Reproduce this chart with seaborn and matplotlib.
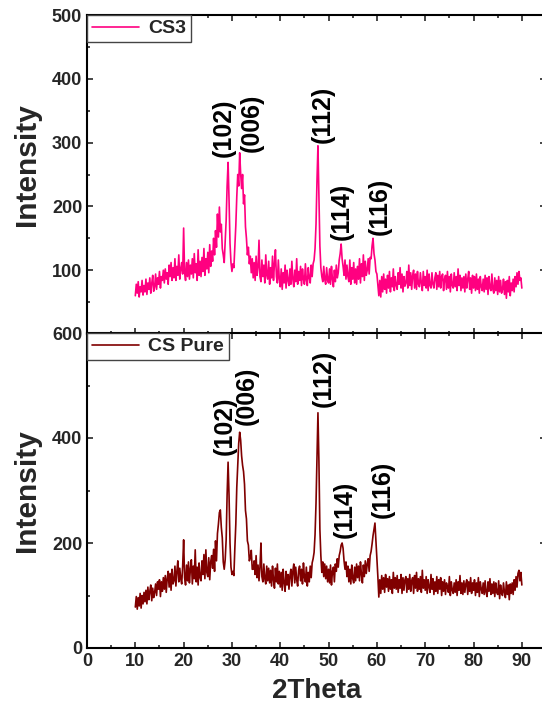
import numpy as np
import pandas as pd
import matplotlib
matplotlib.use("Agg")
import matplotlib.pyplot as plt
from matplotlib.ticker import MultipleLocator
import seaborn as sns

# 2-theta grid (degrees) shared by both scans
two_theta = np.round(np.arange(10.0, 90.0001, 0.2), 1)

# CS3 intensities, one row per 2 degrees
cs3 = [
    60, 78, 64, 82, 58, 74, 66, 84, 61, 76,
    66, 86, 62, 80, 70, 88, 64, 79, 92, 67,
    74, 94, 70, 88, 78, 98, 72, 90, 84, 100,
    80, 102, 86, 96, 78, 108, 90, 112, 84, 104,
    88, 118, 84, 106, 92, 124, 86, 102, 112, 94,
    166, 96, 84, 112, 90, 116, 86, 108, 94, 118,
    88, 126, 96, 110, 84, 132, 92, 114, 90, 120,
    98, 134, 92, 118, 102, 128, 96, 140, 106, 130,
    114, 150, 124, 162, 136, 188, 152, 199, 160, 172,
    134, 124, 112, 146, 178, 232, 269, 210, 142, 112,
    98, 110, 104, 136, 170, 215, 250, 232, 284, 252,
    228, 250, 204, 218, 168, 150, 124, 136, 110, 122,
    96, 118, 88, 112, 84, 122, 92, 104, 147, 90,
    82, 116, 90, 108, 80, 124, 92, 86, 114, 78,
    104, 88, 122, 84, 110, 132, 90, 80, 116, 86,
    74, 102, 70, 96, 80, 108, 72, 100, 84, 76,
    102, 78, 114, 86, 74, 100, 82, 118, 78, 98,
    84, 106, 76, 102, 86, 78, 110, 84, 76, 104,
    88, 80, 108, 90, 110, 116, 134, 172, 240, 295,
    212, 138, 104, 90, 82, 106, 86, 78, 104, 84,
    80, 102, 78, 106, 86, 74, 100, 82, 108, 88,
    96, 116, 126, 141, 118, 106, 92, 116, 86, 108,
    90, 82, 116, 78, 104, 86, 112, 80, 102, 78,
    106, 86, 118, 80, 110, 90, 124, 84, 114, 92,
    100, 118, 94, 120, 118, 138, 150, 126, 116, 98,
    94, 76, 60, 84, 58, 90, 66, 94, 70, 86,
    64, 92, 72, 98, 66, 88, 74, 102, 68, 90,
    76, 70, 96, 78, 104, 72, 94, 66, 90, 75,
    80, 98, 72, 108, 76, 96, 70, 92, 100, 72,
    94, 70, 98, 78, 74, 96, 80, 68, 98, 76,
    90, 72, 100, 68, 94, 76, 72, 96, 78, 72,
    88, 96, 70, 92, 74, 98, 72, 90, 94, 68,
    86, 92, 70, 98, 72, 90, 66, 94, 76, 72,
    96, 74, 90, 68, 102, 76, 92, 68, 88, 72,
    90, 66, 94, 72, 86, 98, 70, 88, 64, 92,
    72, 90, 68, 94, 70, 86, 64, 90, 74, 68,
    86, 66, 92, 70, 88, 62, 90, 72, 68, 94,
    70, 64, 88, 68, 84, 62, 90, 66, 84, 64,
    70, 86, 62, 82, 56, 84, 66, 90, 60, 80,
    68, 86, 66, 90, 74, 96, 78, 98, 84, 88,
    72,
]

# CS Pure intensities, one row per 2 degrees
cs_pure = [
    78, 98, 74, 96, 80, 104, 76, 100, 84, 106,
    88, 110, 84, 116, 92, 108, 120, 90, 114, 96,
    106, 122, 100, 126, 112, 130, 98, 126, 108, 134,
    112, 138, 106, 132, 146, 116, 142, 110, 150, 122,
    128, 156, 118, 146, 166, 126, 152, 132, 122, 156,
    206, 134, 120, 158, 128, 164, 124, 150, 168, 122,
    156, 132, 187, 126, 154, 120, 162, 134, 128, 166,
    140, 178, 132, 187, 144, 136, 172, 130, 164, 176,
    152, 188, 146, 204, 166, 218, 236, 258, 263, 230,
    210, 164, 150, 168, 206, 292, 354, 290, 200, 154,
    140, 146, 138, 190, 236, 306, 346, 390, 411, 396,
    366, 348, 336, 312, 262, 246, 204, 196, 166, 172,
    186, 150, 150, 166, 140, 176, 134, 158, 128, 154,
    200, 136, 126, 160, 132, 122, 156, 128, 152, 124,
    148, 118, 156, 130, 114, 152, 126, 160, 122, 146,
    116, 144, 110, 150, 124, 108, 146, 120, 140, 112,
    138, 150, 118, 146, 160, 124, 154, 130, 118, 148,
    156, 128, 150, 122, 162, 134, 126, 154, 118, 144,
    126, 156, 134, 162, 170, 182, 216, 276, 360, 448,
    356, 226, 176, 144, 164, 136, 160, 132, 156, 126,
    150, 124, 158, 120, 146, 154, 126, 160, 146, 170,
    154, 176, 184, 196, 200, 190, 166, 150, 164, 136,
    156, 126, 150, 122, 158, 132, 124, 154, 128, 160,
    134, 156, 128, 164, 140, 124, 158, 136, 166, 142,
    160, 170, 146, 176, 184, 198, 214, 226, 238, 204,
    168, 136, 97, 130, 104, 138, 112, 134, 106, 140,
    116, 132, 108, 136, 112, 130, 104, 144, 114, 134,
    112, 138, 106, 130, 114, 140, 104, 134, 110, 130,
    136, 106, 132, 112, 140, 108, 128, 134, 104, 138,
    114, 144, 108, 132, 112, 136, 106, 148, 114, 130,
    110, 136, 104, 130, 116, 106, 140, 112, 132, 102,
    126, 108, 136, 104, 130, 112, 134, 100, 126, 108,
    130, 102, 124, 116, 106, 136, 100, 126, 110, 104,
    124, 106, 130, 100, 126, 110, 138, 104, 124, 102,
    128, 106, 122, 130, 102, 126, 108, 134, 104, 124,
    110, 130, 100, 124, 106, 134, 98, 126, 112, 104,
    124, 102, 128, 106, 98, 126, 108, 132, 102, 122,
    104, 126, 98, 124, 106, 102, 128, 94, 120, 104,
    100, 124, 106, 96, 126, 102, 120, 92, 122, 104,
    124, 102, 130, 110, 136, 116, 142, 148, 128, 144,
    120,
]

# Miller indices and where their labels sit (2-theta, intensity at label base)
hkl = ["(102)", "(006)", "(112)", "(114)", "(116)"]
cs3_label_x = [28.2, 34.1, 48.7, 52.8, 60.6]
cs3_label_y = [277, 285, 299, 147, 155]
pure_label_x = [28.6, 33.1, 48.9, 53.4, 61.2]
pure_label_y = [368, 425, 459, 209, 248]

sns.set_style("ticks")
plt.rcParams["font.family"] = ["Liberation Sans", "DejaVu Sans"]
plt.rcParams["font.weight"] = "bold"

fig = plt.figure(figsize=(5.42, 7.08), dpi=100)
W, H = 542, 708
left = 87 / W
width = 459 / W
ax_top = fig.add_axes([left, (H - 334) / H, width, (334 - 15) / H])
ax_bot = fig.add_axes([left, (H - 648) / H, width, (648 - 333) / H])

df_cs3 = pd.DataFrame({"2Theta": two_theta, "Intensity": cs3})
df_pure = pd.DataFrame({"2Theta": two_theta, "Intensity": cs_pure})

sns.lineplot(data=df_cs3, x="2Theta", y="Intensity", ax=ax_top,
             color="#FF0080", linewidth=1.2, label="CS3")
sns.lineplot(data=df_pure, x="2Theta", y="Intensity", ax=ax_bot,
             color="#800000", linewidth=1.2, label="CS Pure")

for ax, lx, ly in ((ax_top, cs3_label_x, cs3_label_y),
                   (ax_bot, pure_label_x, pure_label_y)):
    for t, x, y in zip(hkl, lx, ly):
        ax.text(x, y, t, rotation=90, ha="center", va="bottom",
                fontsize=18, fontweight="bold", color="black")

ax_top.set_ylim(0, 500)
ax_bot.set_ylim(0, 600)
for ax in (ax_top, ax_bot):
    ax.set_xlim(0, 95)
    ax.xaxis.set_major_locator(MultipleLocator(10))
    ax.xaxis.set_minor_locator(MultipleLocator(5))
    ax.tick_params(which="both", direction="in", top=True, right=True,
                   labelsize=13, width=1.2)
    ax.tick_params(which="major", length=4)
    ax.tick_params(which="minor", length=2.5)
    for s in ax.spines.values():
        s.set_linewidth(1.5)
        s.set_color("black")
    leg = ax.legend(loc="upper left", borderaxespad=0, fancybox=False,
                    framealpha=1, edgecolor="#444444", handlelength=2.4,
                    handletextpad=0.5, borderpad=0.25,
                    prop={"weight": "bold", "size": 14})
    leg.get_frame().set_linewidth(1.0)
    ax.set_ylabel("Intensity", fontsize=21.5, fontweight="bold")

ax_top.yaxis.set_label_coords(-0.1, 0.53)
ax_bot.yaxis.set_label_coords(-0.1, 0.5)

ax_top.set_yticks([100, 200, 300, 400, 500])
ax_top.yaxis.set_minor_locator(MultipleLocator(50))
ax_top.tick_params(axis="x", labelbottom=False)
ax_top.set_xlabel("")
ax_bot.set_yticks([0, 200, 400, 600])
ax_bot.yaxis.set_minor_locator(MultipleLocator(100))
ax_bot.set_xlabel("2Theta", fontsize=20, fontweight="bold", labelpad=6)
for lab in ax_top.get_yticklabels() + ax_bot.get_yticklabels() + ax_bot.get_xticklabels():
    lab.set_fontweight("bold")

fig.savefig("out.png", dpi=100)
